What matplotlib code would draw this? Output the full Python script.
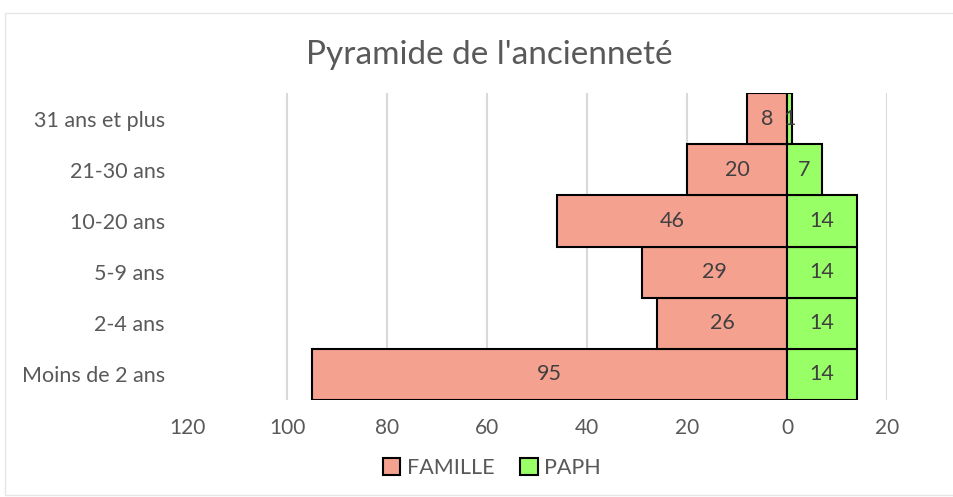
import numpy as np
import matplotlib.pyplot as plt
from matplotlib.patches import Rectangle

categories = ['Moins de 2 ans', '2-4 ans', '5-9 ans', '10-20 ans', '21-30 ans', '31 ans et plus']
famille = [95, 26, 29, 46, 20, 8]
paph = [14, 14, 14, 14, 7, 1]
xticks = [-120, -100, -80, -60, -40, -20, 0, 20]
xticklabels = ['120', '100', '80', '60', '40', '20', '0', '20']

plt.rcParams['font.family'] = ['Lato', 'DejaVu Sans']
txt = '#595959'

fig = plt.figure(figsize=(9.54, 4.97), dpi=100)
ax = fig.add_axes([187/954, 1-400/497, 700/954, 307/497])

y = np.arange(len(categories))
ax.barh(y, [-v for v in famille], height=1.0, color='#F4A190', edgecolor='black', linewidth=1.5, label='FAMILLE', zorder=3)
ax.barh(y, paph, height=1.0, color='#99FF66', edgecolor='black', linewidth=1.5, label='PAPH', zorder=3)

for i in range(len(categories)):
    ax.text(-famille[i]/2, y[i], str(famille[i]), ha='center', va='center', fontsize=15.5, color='#404040', zorder=4)
    ax.text(paph[i]/2, y[i], str(paph[i]), ha='center', va='center', fontsize=15.5, color='#404040', zorder=4)

ax.set_xlim(-120, 20)
ax.set_ylim(-0.5, len(categories)-0.5)
ax.set_yticks(y)
ax.set_yticklabels(categories, fontsize=15.5, color=txt)
ax.set_xticks(xticks)
ax.set_xticklabels(xticklabels, fontsize=15, color=txt)
for x in xticks[1:]:
    ax.axvline(x, color='#d9d9d9', linewidth=1.5, zorder=1)
ax.tick_params(axis='y', length=0, pad=16)
ax.tick_params(axis='x', length=0, pad=13)
for s in ax.spines.values():
    s.set_visible(False)

fig.text(489/954, 1-55/497, "Pyramide de l'ancienneté", ha='center', va='center', fontsize=24, color=txt)
fig.legend(loc='center', bbox_to_anchor=(492/954, 1-468/497), ncol=2, frameon=False,
           fontsize=15.5, handlelength=0.8, handleheight=0.8, columnspacing=1.2, handletextpad=0.3,
           labelcolor=txt)
fig.patches.append(Rectangle((5/954, 0.005), 1, 1-15/497, transform=fig.transFigure,
                             fill=False, edgecolor='#e6e6e6', linewidth=1))

fig.savefig('out.png', dpi=100)
